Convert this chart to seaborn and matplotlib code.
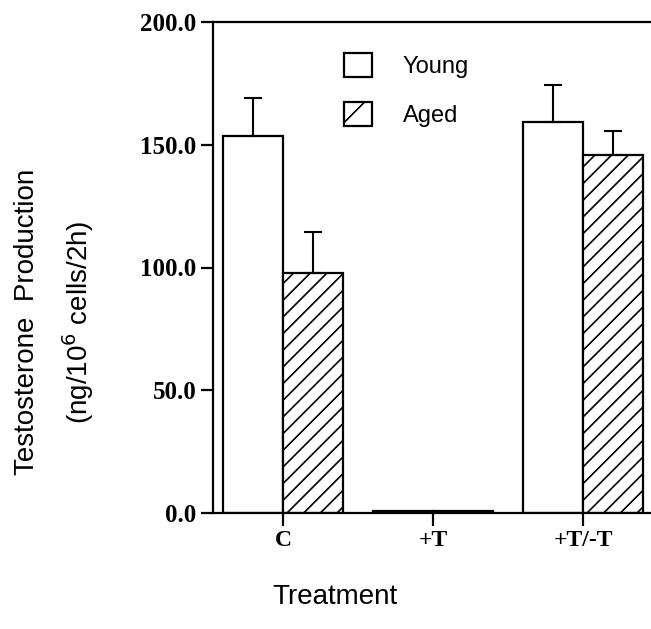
import matplotlib
matplotlib.use("Agg")
import matplotlib.pyplot as plt
import seaborn as sns
import pandas as pd
import numpy as np
from matplotlib.patches import Patch

categories = ["C", "+T", "+T/-T"]
groups = ["Young", "Aged"]
young = [153.6, 1.0, 159.2]
aged = [97.8, 1.0, 145.8]
young_err = [15.6, 0.0, 15.3]
aged_err = [16.7, 0.0, 9.6]
yticks = [0.0, 50.0, 100.0, 150.0, 200.0]

sns.set_theme(style="white")
plt.rcParams["hatch.linewidth"] = 1.2
plt.rcParams["hatch.color"] = "black"
plt.rcParams["text.color"] = "black"
plt.rcParams["xtick.color"] = "black"
plt.rcParams["ytick.color"] = "black"

df = pd.DataFrame({
    "Treatment": categories * 2,
    "Group": ["Young"] * 3 + ["Aged"] * 3,
    "Value": young + aged,
})

fig = plt.figure(figsize=(6.51, 6.29), dpi=100)
ax = fig.add_axes([213 / 651, 1 - 513 / 629, 1 - 213 / 651, (513 - 22) / 629])

sns.barplot(data=df, x="Treatment", y="Value", hue="Group", order=categories,
            hue_order=groups, palette=["white", "white"], edgecolor="black",
            linewidth=1.6, errorbar=None, width=0.8, legend=False, ax=ax)

n = len(categories)
for i, p in enumerate(ax.patches[:2 * n]):
    p.set_facecolor("white")
    p.set_edgecolor("black")
    if i >= n:
        p.set_hatch("//")

errs = young_err + aged_err
for p, e in zip(ax.patches[:2 * n], errs):
    if e <= 0:
        continue
    xc = p.get_x() + p.get_width() / 2
    top = p.get_height()
    ax.errorbar([xc], [top], yerr=[[0], [e]], fmt="none", ecolor="black",
                elinewidth=1.5, capsize=6.5, capthick=1.5)

ax.set_ylim(0, 200)
ax.set_xlim(-0.467, 2.453)
ax.set_yticks(yticks)
ax.set_yticklabels([f"{v:.1f}" for v in yticks], fontfamily="Liberation Serif",
                   fontweight="bold", fontsize=18, color="black")
ax.set_xticks(range(n))
ax.set_xticklabels(categories, fontfamily="Liberation Serif", fontweight="bold",
                   fontsize=17, color="black")
ax.tick_params(axis="both", direction="out", length=9, width=1.6, color="black",
               bottom=True, left=True)
ax.tick_params(axis="x", pad=3)
ax.tick_params(axis="y", pad=3)
ax.set_xlabel("")
ax.set_ylabel("")

for s in ["left", "bottom", "top"]:
    ax.spines[s].set_visible(True)
    ax.spines[s].set_color("black")
    ax.spines[s].set_linewidth(1.6)
ax.spines["right"].set_visible(False)

handles = [Patch(facecolor="white", edgecolor="black", linewidth=1.6, label="Young"),
           Patch(facecolor="white", edgecolor="black", linewidth=1.6, hatch="/", label="Aged")]
leg = ax.legend(handles=handles, loc="upper left", bbox_to_anchor=(0.25, 0.98),
                frameon=False, handlelength=1.2, handleheight=1.2, handletextpad=1.3,
                labelspacing=1.0, prop={"family": "Liberation Sans", "size": 17})
for t in leg.get_texts():
    t.set_color("black")

fig.text(27 / 651, 1 - 322 / 629, "Testosterone  Production", rotation=90,
         ha="center", va="center", fontfamily="Liberation Sans", fontsize=20, color="black")
fig.text(78 / 651, 1 - 322 / 629, "(ng/10$^6$ cells/2h)", rotation=90,
         ha="center", va="center", fontfamily="Liberation Sans", fontsize=20, color="black")
fig.text(335 / 651, 1 - 597 / 629, "Treatment", ha="center", va="center",
         fontfamily="Liberation Sans", fontsize=20, color="black")

fig.savefig("out.png", dpi=100, facecolor="white")
